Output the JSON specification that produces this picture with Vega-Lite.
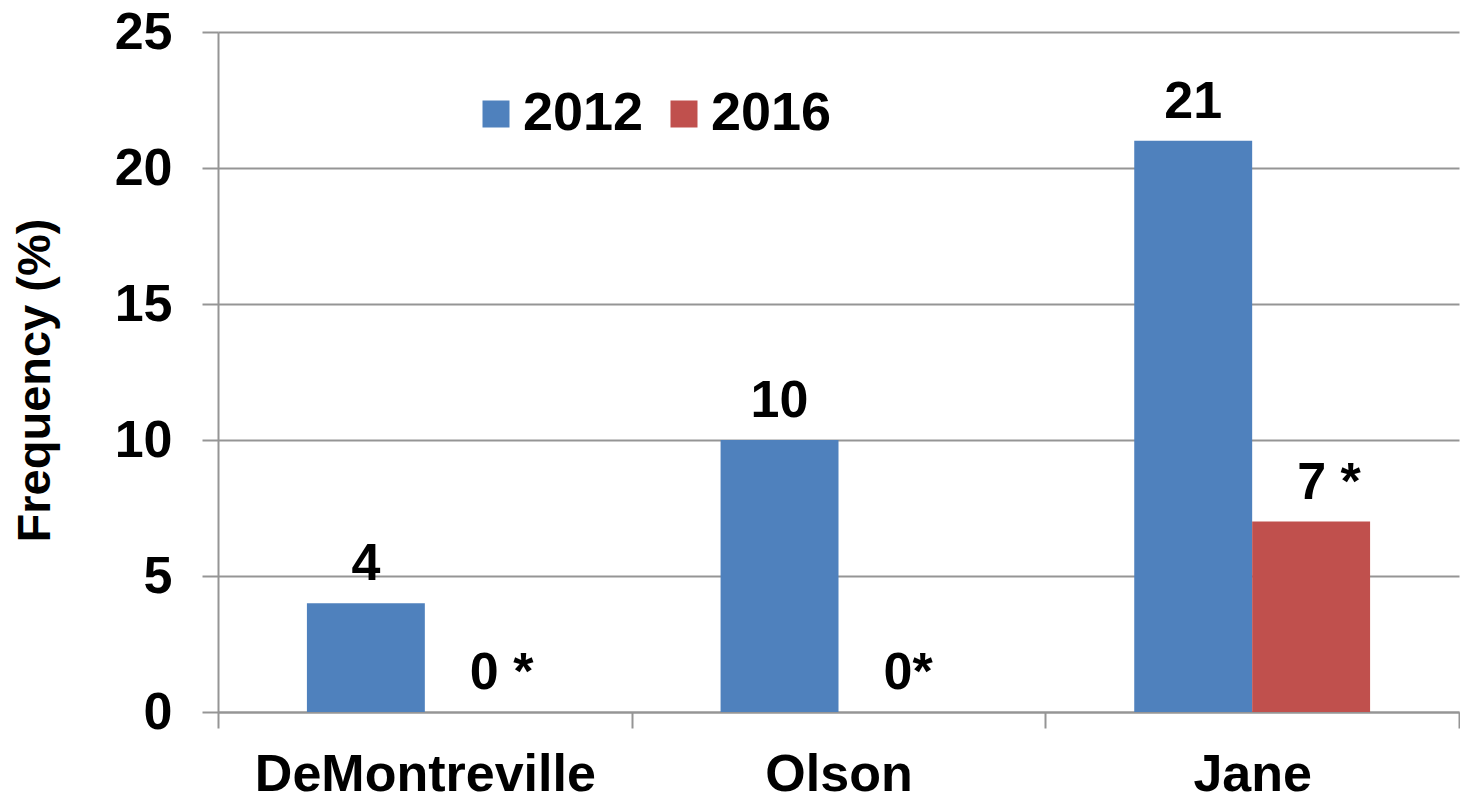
{
  "$schema": "https://vega.github.io/schema/vega-lite/v6.json",
  "autosize": "none",
  "width": 1241,
  "height": 680,
  "padding": {"left": 218, "top": 32, "right": 1, "bottom": 87},
  "background": "white",
  "config": {"view": {"stroke": null}, "font": "Liberation Sans"},
  "data": {"values": [
    {"site": "DeMontreville", "year": "2012", "value": 4, "label": "4", "starred": false},
    {"site": "DeMontreville", "year": "2016", "value": 0, "label": "0 *", "starred": true},
    {"site": "Olson", "year": "2012", "value": 10, "label": "10", "starred": false},
    {"site": "Olson", "year": "2016", "value": 0, "label": "0*", "starred": true},
    {"site": "Jane", "year": "2012", "value": 21, "label": "21", "starred": false},
    {"site": "Jane", "year": "2016", "value": 7, "label": "7 *", "starred": true}
  ]},
  "encoding": {
    "x": {
      "field": "site", "type": "nominal",
      "sort": ["DeMontreville", "Olson", "Jane"],
      "scale": {"paddingInner": 0, "paddingOuter": 0},
      "axis": {
        "title": null, "labelAngle": 0, "tickBand": "extent",
        "ticks": true, "tickSize": 16, "tickColor": "#959595", "tickWidth": 2,
        "domain": true, "domainColor": "#959595", "domainWidth": 2,
        "grid": false, "labelLimit": 0,
        "labelFontSize": 52, "labelFontWeight": "bold", "labelColor": "black",
        "labelPadding": 21
      }
    },
    "xOffset": {
      "field": "year", "type": "nominal",
      "scale": {"paddingInner": 0, "paddingOuter": 0.754}
    },
    "y": {
      "field": "value", "type": "quantitative",
      "scale": {"domain": [0, 25], "nice": false},
      "axis": {
        "values": [0, 5, 10, 15, 20, 25],
        "grid": true, "gridColor": "#959595", "gridWidth": 2,
        "domain": true, "domainColor": "#959595", "domainWidth": 2,
        "ticks": true, "tickSize": 16, "tickColor": "#959595", "tickWidth": 2,
        "labelFontSize": 52, "labelFontWeight": "bold", "labelColor": "black",
        "labelPadding": 30, "labelFlush": false, "labelOverlap": false,
        "title": "Frequency (%)", "titleFontSize": 47, "titleFontWeight": "bold",
        "titleColor": "black", "titlePadding": 55, "titleY": 348
      }
    }
  },
  "layer": [
    {
      "mark": {"type": "bar"},
      "encoding": {
        "color": {
          "field": "year", "type": "nominal",
          "scale": {"domain": ["2012", "2016"], "range": ["#4F81BD", "#C0504D"]},
          "legend": {
            "title": null, "orient": "none", "direction": "horizontal",
            "legendX": 251, "legendY": 55, "padding": 0,
            "symbolType": "square", "symbolSize": 729, "symbolStrokeWidth": 0,
            "labelFontSize": 54, "labelFontWeight": "bold", "labelColor": "black",
            "labelOffset": 0, "columnPadding": 13
          }
        }
      }
    },
    {
      "transform": [{"filter": "!datum.starred"}],
      "mark": {"type": "text", "fontSize": 52, "fontWeight": "bold", "color": "black", "baseline": "alphabetic", "dy": -23},
      "encoding": {"text": {"field": "label", "type": "nominal"}}
    },
    {
      "transform": [{"filter": "datum.starred"}],
      "mark": {"type": "text", "fontSize": 52, "fontWeight": "bold", "color": "black", "baseline": "alphabetic", "align": "left", "dx": -14, "dy": -23},
      "encoding": {"text": {"field": "label", "type": "nominal"}}
    }
  ]
}
